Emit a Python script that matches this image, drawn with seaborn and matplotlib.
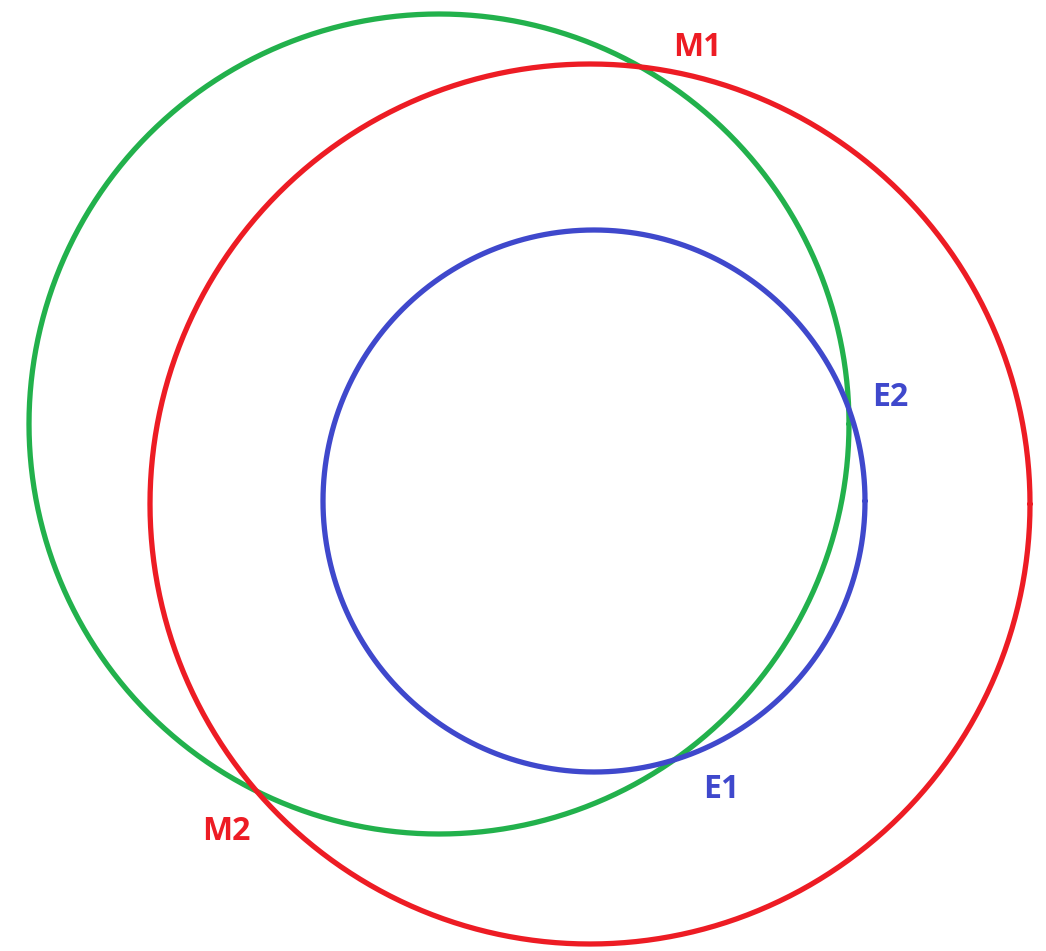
# three overlapping circles with labelled intersection points

import numpy as np
import pandas as pd
import matplotlib.pyplot as plt
import seaborn as sns

# circle data (picture units, y downward)
names = ['green', 'red', 'blue']
center_x = [439, 590, 594]
center_y = [424, 504, 501]
radius = [410, 440, 271]
colors = ['#22b14c', '#ed1c24', '#3f48cc']

# labels
label_text = ['M1', 'M2', 'E1', 'E2']
label_x = [697, 226, 721, 890]
label_y = [47, 832, 790, 398]
label_color = ['#ed1c24', '#ed1c24', '#3f48cc', '#3f48cc']

sns.set_style('white')
plt.rcParams['font.family'] = ['Open Sans', 'DejaVu Sans']

fig = plt.figure(figsize=(10.46, 9.51), dpi=100)
ax = fig.add_axes([0, 0, 1, 1])

t = np.linspace(0, 2 * np.pi, 721)
for name, cx, cy, r, c in zip(names, center_x, center_y, radius, colors):
    df = pd.DataFrame({'x': cx + r * np.cos(t), 'y': cy + r * np.sin(t)})
    sns.lineplot(data=df, x='x', y='y', sort=False, estimator=None,
                 color=c, linewidth=3.8, ax=ax,
                 solid_capstyle='round', solid_joinstyle='round')

for txt, x, y, c in zip(label_text, label_x, label_y, label_color):
    ax.text(x, y, txt, color=c, fontsize=23, fontweight='bold',
            ha='center', va='center')

ax.set_xlim(0, 1046)
ax.set_ylim(951, 0)
ax.set_aspect('equal')
ax.axis('off')

plt.savefig('out.png', dpi=100)
